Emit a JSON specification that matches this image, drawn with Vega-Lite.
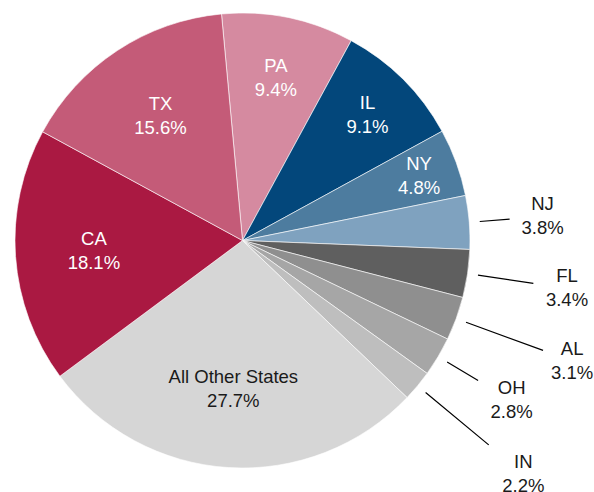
{
  "$schema": "https://vega.github.io/schema/vega-lite/v6.json",
  "width": 455,
  "height": 455,
  "autosize": {"type": "none"},
  "padding": {"left": 15, "top": 13, "right": 124, "bottom": 24},
  "background": "white",
  "config": {"view": {"stroke": null}},
  "data": {
    "values": [
      {"state": "PA", "value": 9.4, "rank": 1},
      {"state": "IL", "value": 9.1, "rank": 2},
      {"state": "NY", "value": 4.8, "rank": 3},
      {"state": "NJ", "value": 3.8, "rank": 4},
      {"state": "FL", "value": 3.4, "rank": 5},
      {"state": "AL", "value": 3.1, "rank": 6},
      {"state": "OH", "value": 2.8, "rank": 7},
      {"state": "IN", "value": 2.2, "rank": 8},
      {"state": "All Other States", "value": 27.7, "rank": 9},
      {"state": "CA", "value": 18.1, "rank": 10},
      {"state": "TX", "value": 15.6, "rank": 11}
    ]
  },
  "transform": [
    {"calculate": "datum.state + '\\n' + format(datum.value, '.1f') + '%'", "as": "label"}
  ],
  "encoding": {
    "theta": {"field": "value", "type": "quantitative", "stack": true, "scale": {"range": [-0.0925, 6.1907]}},
    "order": {"field": "rank", "type": "quantitative"}
  },
  "layer": [
    {
      "mark": {"type": "arc", "stroke": "white", "strokeWidth": 0.6},
      "encoding": {
        "color": {
          "field": "state", "type": "nominal", "legend": null,
          "scale": {
            "domain": ["PA", "IL", "NY", "NJ", "FL", "AL", "OH", "IN", "All Other States", "CA", "TX"],
            "range": ["#D58AA0", "#03477B", "#4D7C9F", "#7FA2BF", "#5F5F5F", "#8F8F8F", "#A6A6A6", "#BEBEBE", "#D6D6D6", "#AA1942", "#C45B78"]
          }
        }
      }
    },
    {
      "mark": {"type": "arc", "innerRadius": 238, "outerRadius": 268, "padAngle": 2, "fill": "transparent", "stroke": "black", "strokeWidth": 1.2},
      "encoding": {
        "detail": {"field": "state"},
        "strokeOpacity": {"condition": {"test": "datum.state === 'NJ'", "value": 1}, "value": 0}
      }
    },
    {
      "mark": {"type": "arc", "innerRadius": 238, "outerRadius": 274, "padAngle": 2, "fill": "transparent", "stroke": "black", "strokeWidth": 1.2},
      "encoding": {
        "detail": {"field": "state"},
        "strokeOpacity": {"condition": {"test": "datum.state === 'OH'", "value": 1}, "value": 0}
      }
    },
    {
      "mark": {"type": "arc", "innerRadius": 238, "outerRadius": 294, "padAngle": 2, "fill": "transparent", "stroke": "black", "strokeWidth": 1.2},
      "encoding": {
        "detail": {"field": "state"},
        "strokeOpacity": {"condition": {"test": "datum.state === 'FL'", "value": 1}, "value": 0}
      }
    },
    {
      "mark": {"type": "arc", "innerRadius": 238, "outerRadius": 320, "padAngle": 2, "fill": "transparent", "stroke": "black", "strokeWidth": 1.2},
      "encoding": {
        "detail": {"field": "state"},
        "strokeOpacity": {"condition": {"test": "indexof(['AL','IN'], datum.state) >= 0", "value": 1}, "value": 0}
      }
    },
    {
      "mark": {"type": "text", "font": "Liberation Sans", "fontSize": 18.5, "lineBreak": "\n", "lineHeight": 24, "align": "center", "baseline": "middle", "dy": -12},
      "encoding": {
        "detail": {"field": "state"},
        "radius": {"value": 149},
        "color": {"condition": {"test": "datum.state === 'All Other States'", "value": "#1a1a1a"}, "value": "white"},
        "text": {"condition": {"test": "indexof(['TX','CA','All Other States'], datum.state) >= 0", "field": "label"}, "value": ""}
      }
    },
    {
      "mark": {"type": "text", "font": "Liberation Sans", "fontSize": 18.5, "lineBreak": "\n", "lineHeight": 24, "align": "center", "baseline": "middle", "dy": -12, "fill": "white"},
      "encoding": {
        "detail": {"field": "state"},
        "radius": {"value": 166},
        "text": {"condition": {"test": "datum.state === 'PA'", "field": "label"}, "value": ""}
      }
    },
    {
      "mark": {"type": "text", "font": "Liberation Sans", "fontSize": 18.5, "lineBreak": "\n", "lineHeight": 24, "align": "center", "baseline": "middle", "dy": -12, "fill": "white"},
      "encoding": {
        "detail": {"field": "state"},
        "radius": {"value": 177},
        "text": {"condition": {"test": "datum.state === 'IL'", "field": "label"}, "value": ""}
      }
    },
    {
      "mark": {"type": "text", "font": "Liberation Sans", "fontSize": 18.5, "lineBreak": "\n", "lineHeight": 24, "align": "center", "baseline": "middle", "dy": -12, "fill": "white"},
      "encoding": {
        "detail": {"field": "state"},
        "radius": {"value": 188},
        "text": {"condition": {"test": "datum.state === 'NY'", "field": "label"}, "value": ""}
      }
    },
    {
      "mark": {"type": "text", "font": "Liberation Sans", "fontSize": 18.5, "lineBreak": "\n", "lineHeight": 24, "align": "center", "baseline": "middle", "dy": -12, "fill": "#1a1a1a"},
      "encoding": {
        "detail": {"field": "state"},
        "radius": {"value": 301},
        "text": {"condition": {"test": "datum.state === 'NJ'", "field": "label"}, "value": ""}
      }
    },
    {
      "mark": {"type": "text", "font": "Liberation Sans", "fontSize": 18.5, "lineBreak": "\n", "lineHeight": 24, "align": "center", "baseline": "middle", "dy": -12, "fill": "#1a1a1a"},
      "encoding": {
        "detail": {"field": "state"},
        "radius": {"value": 313},
        "text": {"condition": {"test": "datum.state === 'OH'", "field": "label"}, "value": ""}
      }
    },
    {
      "mark": {"type": "text", "font": "Liberation Sans", "fontSize": 18.5, "lineBreak": "\n", "lineHeight": 24, "align": "center", "baseline": "middle", "dy": -12, "fill": "#1a1a1a"},
      "encoding": {
        "detail": {"field": "state"},
        "radius": {"value": 328},
        "text": {"condition": {"test": "datum.state === 'FL'", "field": "label"}, "value": ""}
      }
    },
    {
      "mark": {"type": "text", "font": "Liberation Sans", "fontSize": 18.5, "lineBreak": "\n", "lineHeight": 24, "align": "center", "baseline": "middle", "dy": -12, "fill": "#1a1a1a"},
      "encoding": {
        "detail": {"field": "state"},
        "radius": {"value": 351},
        "text": {"condition": {"test": "datum.state === 'AL'", "field": "label"}, "value": ""}
      }
    },
    {
      "mark": {"type": "text", "font": "Liberation Sans", "fontSize": 18.5, "lineBreak": "\n", "lineHeight": 24, "align": "center", "baseline": "middle", "dy": -12, "fill": "#1a1a1a"},
      "encoding": {
        "detail": {"field": "state"},
        "radius": {"value": 365},
        "text": {"condition": {"test": "datum.state === 'IN'", "field": "label"}, "value": ""}
      }
    }
  ]
}
